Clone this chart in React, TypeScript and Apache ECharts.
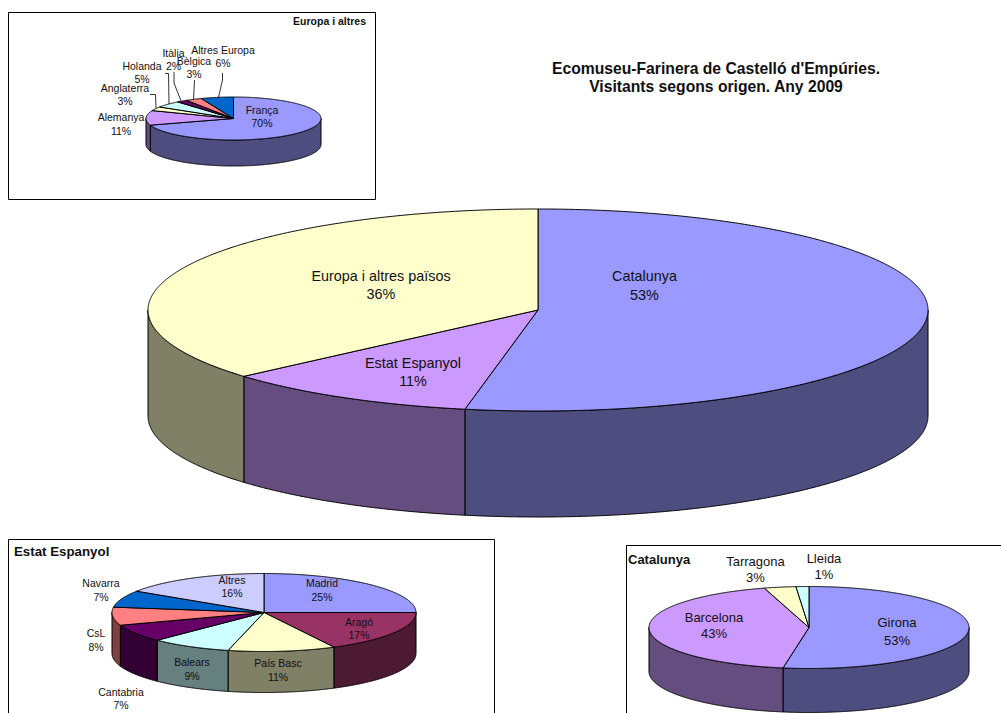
import React, { useEffect, useRef } from "react";
import * as echarts from "echarts";

// ---- data ----
const mainCategories = ["Catalunya", "Estat Espanyol", "Europa i altres països"];
const mainValues = [53, 10.6, 36.4];
const europeCategories = ["França", "Alemanya", "Anglaterra", "Holanda", "Itàlia", "Bèlgica", "Altres Europa"];
const europeValues = [70, 11, 3, 5, 2, 3, 6];
const spainCategories = ["Madrid", "Aragó", "País Basc", "Balears", "Cantabria", "CsL", "Navarra", "Altres"];
const spainValues = [25, 17.4, 11.4, 8.6, 7.3, 7.5, 7.0, 15.8];
const cataloniaCategories = ["Girona", "Barcelona", "Tarragona", "Lleida"];
const cataloniaValues = [52.6, 42.9, 3.2, 1.3];

const titleLines = ["Ecomuseu-Farinera de Castelló d'Empúries.", "Visitants segons origen. Any 2009"];

// ---- colours ----
const palette = ["#9999FF", "#CC99FF", "#FFFFCC", "#CCFFFF", "#660066", "#FF8080", "#0066CC"];
const spainPalette = ["#9999FF", "#993366", "#FFFFCC", "#CCFFFF", "#660066", "#FF8080", "#0066CC", "#CCCCFF"];

const darken = (hex: string) => {
  const n = parseInt(hex.slice(1), 16);
  const c = [(n >> 16) & 255, (n >> 8) & 255, n & 255].map((v) => Math.round(v / 2));
  return `rgb(${c[0]},${c[1]},${c[2]})`;
};

// ---- layout ----
type Geo = { cx: number; cy: number; rx: number; ry: number; depth: number };
const mainGeo: Geo = { cx: 538, cy: 310, rx: 390, ry: 101, depth: 106 };
const europeGeo: Geo = { cx: 233.5, cy: 118.5, rx: 87.5, ry: 21.5, depth: 26 };
const spainGeo: Geo = { cx: 264, cy: 612.5, rx: 152, ry: 39, depth: 41 };
const cataloniaGeo: Geo = { cx: 809, cy: 627.5, rx: 160, ry: 41, depth: 44 };

// label anchor: [x, first line y, second line y]
const mainLabelPos = [[644.5, 276, 294.5], [413, 362.5, 380.5], [381, 275.5, 293.5]];
const europeLabelPos = [[262, 110, 123], [121, 117, 130.5], [125, 88, 101], [142, 66, 79], [173.5, 53, 66], [194, 61, 73.5], [223, 50, 63]];
const spainLabelPos = [[322, 583, 597], [359, 622, 635], [278, 663, 677], [192, 662, 676], [121, 692, 705], [96, 633, 647], [101, 583, 597], [232, 580, 593]];
const cataloniaLabelPos = [[897, 622, 640], [714, 617, 633], [755.5, 561, 577], [824, 558, 574]];

const pt = (g: Geo, deg: number, dy = 0): [number, number] => {
  const t = (deg * Math.PI) / 180;
  return [g.cx + g.rx * Math.sin(t), g.cy - g.ry * Math.cos(t) + dy];
};

const arc = (g: Geo, a: number, b: number, dy = 0) => {
  const pts: [number, number][] = [];
  const n = Math.max(2, Math.ceil((b - a) / 0.25));
  for (let i = 0; i <= n; i++) pts.push(pt(g, a + ((b - a) * i) / n, dy));
  return pts;
};

const sliceRows = (values: number[]) => {
  const total = values.reduce((s, v) => s + v, 0);
  let acc = 0;
  return values.map((v, i) => {
    const start = (acc / total) * 360;
    acc += v;
    return [start, (acc / total) * 360, i];
  });
};

const pieSeries = (values: number[], colors: string[], g: Geo) => {
  const rows = sliceRows(values);
  const side = {
    type: "custom",
    coordinateSystem: "none",
    silent: true,
    z: 2,
    data: rows,
    renderItem: (_p: any, api: any) => {
      const a = Math.max(api.value(0), 90);
      const b = Math.min(api.value(1), 270);
      if (b <= a) return null;
      const points = [...arc(g, a, b), ...arc(g, a, b, g.depth).reverse()];
      return {
        type: "polygon",
        shape: { points },
        style: { fill: darken(colors[api.value(2)]), stroke: "#000", lineWidth: 1, lineJoin: "round" },
      };
    },
  };
  const top = {
    type: "custom",
    coordinateSystem: "none",
    silent: true,
    z: 3,
    data: rows,
    renderItem: (_p: any, api: any) => {
      const points = [[g.cx, g.cy], ...arc(g, api.value(0), api.value(1))];
      return {
        type: "polygon",
        shape: { points },
        style: { fill: colors[api.value(2)], stroke: "#000", lineWidth: 1, lineJoin: "round" },
      };
    },
  };
  return [side, top];
};

const textEl = (text: string, x: number, y: number, font: string, textAlign = "center") => ({
  type: "text",
  z: 20,
  silent: true,
  style: { text, x, y, font, fill: "#111", textAlign, textVerticalAlign: "middle" },
});

const labels = (cats: string[], values: number[], pos: number[][], font: string) =>
  cats.flatMap((c, i) => [
    textEl(c, pos[i][0], pos[i][1], font),
    textEl(`${Math.round(values[i])}%`, pos[i][0], pos[i][2], font),
  ]);

const frame = (x: number, y: number, width: number, height: number) => ({
  type: "rect",
  z: 1,
  silent: true,
  shape: { x, y, width, height },
  style: { fill: "#fff", stroke: "#000", lineWidth: 1 },
});

const leader = (points: number[][]) => ({
  type: "polyline",
  z: 19,
  silent: true,
  shape: { points },
  style: { fill: "none", stroke: "#000", lineWidth: 0.8 },
});

const ARIAL = '"Liberation Sans", Arial, sans-serif';

export default function App() {
  const ref = useRef<HTMLDivElement>(null);
  useEffect(() => {
    const chart = echarts.init(ref.current!, undefined, { renderer: "svg" });
    chart.setOption({
      animation: false,
      backgroundColor: "#fff",
      tooltip: { show: false },
      series: [
        ...pieSeries(mainValues, palette, mainGeo),
        ...pieSeries(europeValues, palette, europeGeo),
        ...pieSeries(spainValues, spainPalette, spainGeo),
        ...pieSeries(cataloniaValues, palette, cataloniaGeo),
      ],
      graphic: {
        elements: [
          frame(8.5, 12.5, 367, 187),
          frame(8.5, 539.5, 486, 200),
          frame(626.5, 545.5, 400, 200),
          textEl(titleLines[0], 716, 68, `bold 15.7px ${ARIAL}`),
          textEl(titleLines[1], 716, 86.5, `bold 15.7px ${ARIAL}`),
          textEl("Europa i altres", 366, 21, `bold 10.5px ${ARIAL}`, "right"),
          textEl("Estat Espanyol", 14, 551.5, `bold 13.3px ${ARIAL}`, "left"),
          textEl("Catalunya", 628, 559, `bold 13px ${ARIAL}`, "left"),
          ...labels(mainCategories, mainValues, mainLabelPos, `14.4px ${ARIAL}`),
          ...labels(europeCategories, europeValues, europeLabelPos, `10.5px ${ARIAL}`),
          ...labels(spainCategories, spainValues, spainLabelPos, `10.5px ${ARIAL}`),
          ...labels(cataloniaCategories, cataloniaValues, cataloniaLabelPos, `13px ${ARIAL}`),
          leader([[150, 94.5], [155.5, 94.5], [156, 108.5]]),
          leader([[165, 73.5], [168.5, 73.5], [169, 104]]),
          leader([[174, 72], [174, 83], [181, 101]]),
          leader([[194.5, 80], [193.5, 99.5]]),
          leader([[222.5, 73], [222.5, 80], [218.5, 97.5]]),
        ],
      },
    });
    return () => chart.dispose();
  }, []);
  return (
    <div style={{ position: "fixed", left: 0, top: 0, width: 1001, height: 713, overflow: "hidden" }}>
      <div ref={ref} style={{ width: 1001, height: 713 }} />
    </div>
  );
}
